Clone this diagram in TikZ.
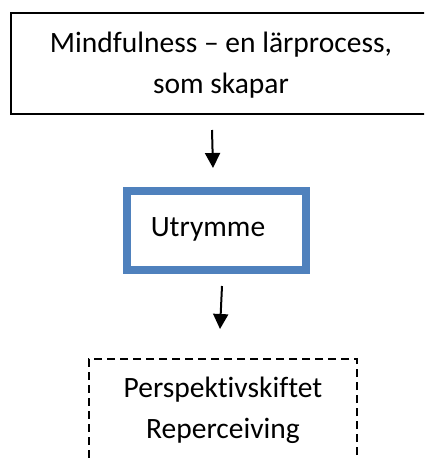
\documentclass[tikz,border=0pt]{standalone}
\usepackage{fontspec}
\setmainfont{Carlito}[Ligatures=CommonOff]
\usetikzlibrary{arrows.meta}
\definecolor{boxblue}{HTML}{4F81BD}
\tikzset{
  txt/.style={font=\fontsize{29.5}{34}\selectfont, anchor=base, inner sep=0pt},
  plainbox/.style={draw=black, line width=2pt, minimum width=420pt, minimum height=101pt, inner sep=0pt},
  bluebox/.style={draw=boxblue, line width=8pt, minimum width=179pt, minimum height=79pt, inner sep=0pt},
  dashbox/.style={draw=black, line width=1.4pt, dash pattern=on 8pt off 5pt, minimum width=268pt, minimum height=140pt, inner sep=0pt},
  flow/.style={line width=2pt, -{Triangle[width=15pt,length=15pt]}}
}
\begin{document}
\begin{tikzpicture}[x=1pt,y=-1pt]
\useasboundingbox (0,0) rectangle (424,458);
\clip (0,0) rectangle (424,458);
\node[plainbox] (top) at (221,63.5) {};
\node[txt] (t1) at (221,52) {Mindfulness – en lärprocess,};
\node[txt] (t2) at (221,93) {som skapar};
\node[bluebox] (mid) at (216.5,230.5) {};
\node[txt] (m1) at (208,236) {Utrymme};
\node[dashbox] (bot) at (223,429) {};
\node[txt] (b1) at (223,397) {Perspektivskiftet};
\node[txt] (b2) at (223,438) {Reperceiving};
\coordinate (a1s) at (212,130);
\coordinate (a1e) at (213,168);
\coordinate (a2s) at (222,286);
\coordinate (a2e) at (220,329);
\draw[flow] (a1s) -- (a1e);
\draw[flow] (a2s) -- (a2e);
\end{tikzpicture}
\end{document}
